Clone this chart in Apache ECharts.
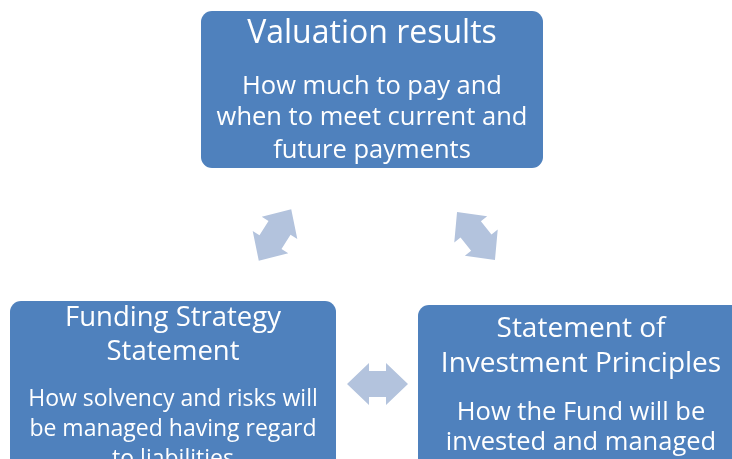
<!DOCTYPE html>
<html><head><meta charset="utf-8">
<script src="https://cdn.jsdelivr.net/npm/echarts@6/dist/echarts.min.js"></script>
<style>html,body{margin:0;padding:0;background:#fff}#c{width:732px;height:459px}</style>
</head><body><div id="c"></div>
<script>
// Diagram content
const boxTitles = [
  ["Valuation results"],
  ["Funding Strategy", "Statement"],
  ["Statement of", "Investment Principles"]
];
const boxDescriptions = [
  ["How much to pay and", "when to meet current and", "future payments"],
  ["How solvency and risks will", "be managed having regard", "to liabilities"],
  ["How the Fund will be", "invested and managed"]
];

// Layout (positions/styles kept separate from content)
const boxLayout = [
  { x: 201, y: 11, w: 342, h: 157, cx: 372, titleY: [34], descY: [87, 118, 151], ts: 32, ds: 25.5 },
  { x: 10, y: 301, w: 326, h: 190, cx: 173, titleY: [318, 352], descY: [399, 429, 459], ts: 27.5, ds: 23 },
  { x: 418, y: 305, w: 340, h: 190, cx: 581, titleY: [329, 364], descY: [413, 443], ts: 28, ds: 25.5 }
];
const arrowLayout = [
  { x: 275, y: 235, rot: 1.01 },
  { x: 476, y: 236, rot: -0.90 },
  { x: 377.5, y: 384, rot: 0 }
];
const BOX_COLOR = '#4F81BD';
const ARROW_COLOR = '#B3C3DD';
const FONT = '"Open Sans", sans-serif';

const arrowPts = [[-30.5,0],[-8.5,-21],[-8.5,-13],[8.5,-13],[8.5,-21],[30.5,0],[8.5,21],[8.5,13],[-8.5,13],[-8.5,21]];

const graphic = [];
boxLayout.forEach((b, i) => {
  graphic.push({ type: 'rect', shape: { x: b.x, y: b.y, width: b.w, height: b.h, r: 11 }, style: { fill: BOX_COLOR } });
  boxTitles[i].forEach((t, j) => {
    graphic.push({ type: 'text', x: b.cx, y: b.titleY[j], style: { text: t, fill: '#fff', font: b.ts + 'px ' + FONT, textAlign: 'center', textVerticalAlign: 'middle' } });
  });
  boxDescriptions[i].forEach((t, j) => {
    graphic.push({ type: 'text', x: b.cx, y: b.descY[j], style: { text: t, fill: '#fff', font: b.ds + 'px ' + FONT, textAlign: 'center', textVerticalAlign: 'middle' } });
  });
});
arrowLayout.forEach(a => {
  graphic.push({ type: 'polygon', x: a.x, y: a.y, rotation: a.rot, shape: { points: arrowPts }, style: { fill: ARROW_COLOR } });
});

const chart = echarts.init(document.getElementById('c'), null, { renderer: 'canvas' });
chart.setOption({ animation: false, graphic: graphic });
</script>
</body></html>
